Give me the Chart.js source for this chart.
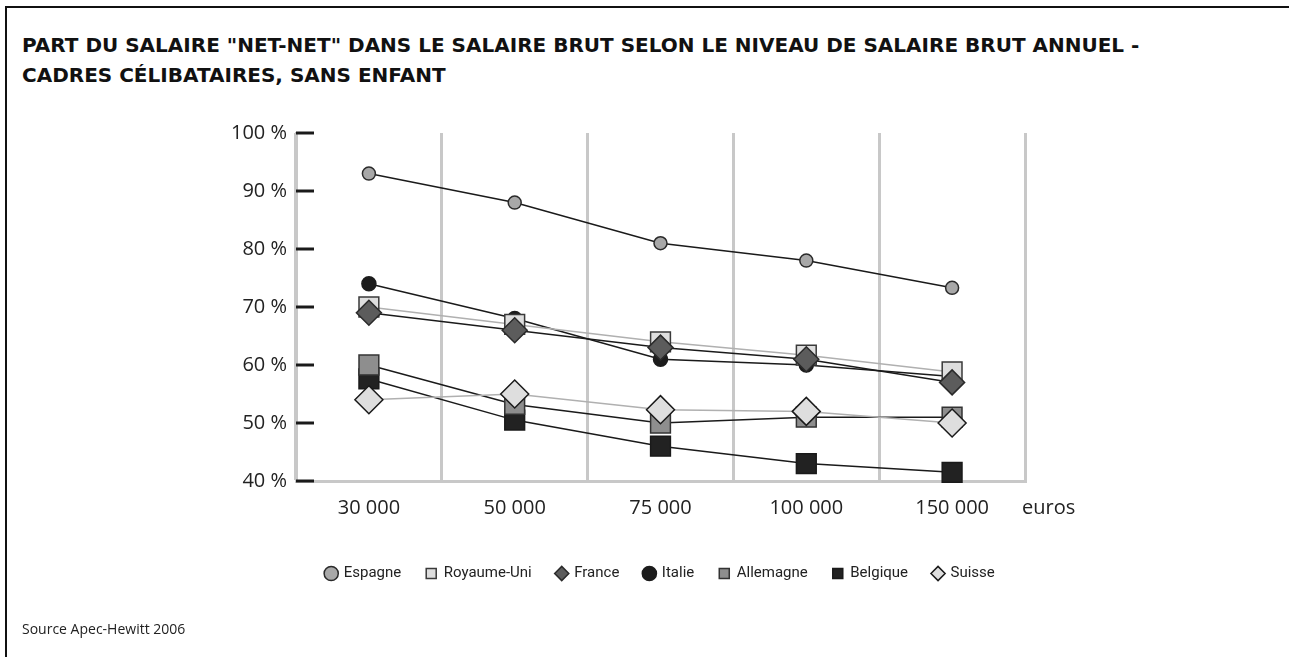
<!DOCTYPE html>
<html lang="fr">
<head>
<meta charset="utf-8">
<title>Part du salaire net-net</title>
<script src="https://cdn.jsdelivr.net/npm/chart.js@4/dist/chart.umd.min.js"></script>
<style>
  html, body { margin: 0; padding: 0; background: #fff; }
  body { width: 1289px; height: 657px; position: relative; overflow: hidden; }
  .cadre { position: absolute; left: 5px; top: 6px; right: -10px; bottom: -10px;
           border-left: 2px solid #111; border-top: 2px solid #111; }
  h1 { position: absolute; left: 22px; top: 30px; margin: 0; font-family: "DejaVu Sans", sans-serif;
       font-weight: bold; font-size: 20px; line-height: 30px; color: #111; }
  .source { position: absolute; left: 22px; top: 619px; font-family: "Open Sans", sans-serif; font-size: 14px; color: #222; }
  canvas { position: absolute; left: 0; top: 0; }
</style>
</head>
<body>
<div class="cadre"></div>
<h1>PART DU SALAIRE "NET-NET" DANS LE SALAIRE BRUT SELON LE NIVEAU DE SALAIRE BRUT ANNUEL -<br>CADRES CÉLIBATAIRES, SANS ENFANT</h1>
<canvas id="salaireChart" width="1289" height="657"></canvas>
<div class="source">Source Apec-Hewitt 2006</div>
<script>
// salaire brut annuel (euros)
const categories = ['30 000', '50 000', '75 000', '100 000', '150 000'];

// part du net-net dans le brut, en %
const espagne    = [93, 88, 81, 78, 73.3];
const royaumeUni = [70, 67, 64, 61.7, 58.8];
const france     = [69, 66, 63, 61, 57];
const italie     = [74, 68, 61, 60, 58];
const allemagne  = [60, 53.2, 50, 51, 51];
const belgique   = [57.6, 50.5, 46, 43, 41.5];
const suisse     = [54, 55, 52.3, 52, 50];

const yTicks = [40, 50, 60, 70, 80, 90, 100];

const tickFont = { family: 'Open Sans', size: 20 };

function serie(label, data, lineColor, pointStyle, radius, fill, border, order) {
  return {
    label, data, order,
    borderColor: lineColor,
    borderWidth: 1.5,
    pointStyle,
    pointRadius: radius,
    pointHoverRadius: radius,
    pointBackgroundColor: fill,
    pointBorderColor: border,
    pointBorderWidth: 1.5,
    backgroundColor: fill,
    tension: 0,
    clip: false
  };
}

const extras = {
  id: 'extras',
  // légende centrée sous la zone de tracé
  afterLayout(chart) {
    const lg = chart.legend;
    lg.left = chart.chartArea.left;
    lg.right = chart.chartArea.right;
  },
  // petits traits noirs sur l'axe vertical, vers l'intérieur
  beforeDatasetsDraw(chart) {
    const { ctx, chartArea, scales } = chart;
    ctx.save();
    ctx.strokeStyle = '#1a1a1a';
    ctx.lineWidth = 3;
    yTicks.forEach(v => {
      const py = scales.y.getPixelForValue(v);
      ctx.beginPath();
      ctx.moveTo(chartArea.left, py);
      ctx.lineTo(chartArea.left + 18, py);
      ctx.stroke();
    });
    ctx.restore();
  },
  afterDraw(chart) {
    const { ctx, chartArea } = chart;
    ctx.save();
    ctx.font = '20px "Open Sans"';
    ctx.fillStyle = '#222';
    ctx.textBaseline = 'middle';
    ctx.fillText('euros', chartArea.right - 3, chartArea.bottom + 27);
    ctx.restore();
  }
};

new Chart(document.getElementById('salaireChart'), {
  type: 'line',
  data: {
    labels: categories,
    datasets: [
      serie('Espagne', espagne, '#1a1a1a', 'circle', 6.5, '#a8a8a8', '#2a2a2a', 6),
      serie('Royaume-Uni', royaumeUni, '#b0b0b0', 'rect', 14, '#dedede', '#3a3a3a', 2),
      serie('France', france, '#1a1a1a', 'rectRot', 12.5, '#5c5c5c', '#2a2a2a', 1),
      serie('Italie', italie, '#1a1a1a', 'circle', 7, '#1c1c1c', '#1c1c1c', 4),
      serie('Allemagne', allemagne, '#1a1a1a', 'rect', 14, '#8e8e8e', '#333', 3),
      serie('Belgique', belgique, '#1a1a1a', 'rect', 14, '#222', '#1a1a1a', 5),
      serie('Suisse', suisse, '#b0b0b0', 'rectRot', 14, '#dedede', '#1a1a1a', 0)
    ]
  },
  options: {
    responsive: false,
    animation: false,
    layout: { padding: { left: 200, right: 264, top: 133, bottom: 66 } },
    plugins: {
      legend: {
        position: 'bottom',
        labels: {
          usePointStyle: true,
          boxWidth: 10,
          boxHeight: 10,
          padding: 25,
          color: '#222',
          font: { family: 'Roboto', size: 15 },
          sort: (a, b) => a.datasetIndex - b.datasetIndex
        }
      },
      tooltip: { enabled: false }
    },
    scales: {
      x: {
        offset: true,
        grid: { offset: true, color: '#c8c8c8', lineWidth: 3, drawTicks: false },
        border: { color: '#c8c8c8', width: 3 },
        ticks: { color: '#222', font: tickFont, padding: 15, maxRotation: 0 },
        afterFit(scale) { scale.height = 60; }
      },
      y: {
        min: 40,
        max: 100,
        grid: { display: false, drawTicks: false },
        border: { color: '#c8c8c8', width: 3 },
        ticks: {
          stepSize: 10,
          color: '#222',
          font: tickFont,
          padding: 9,
          callback: v => v + ' %'
        },
        afterFit(scale) { scale.width = 96; }
      }
    }
  },
  plugins: [extras]
});
</script>
</body>
</html>
